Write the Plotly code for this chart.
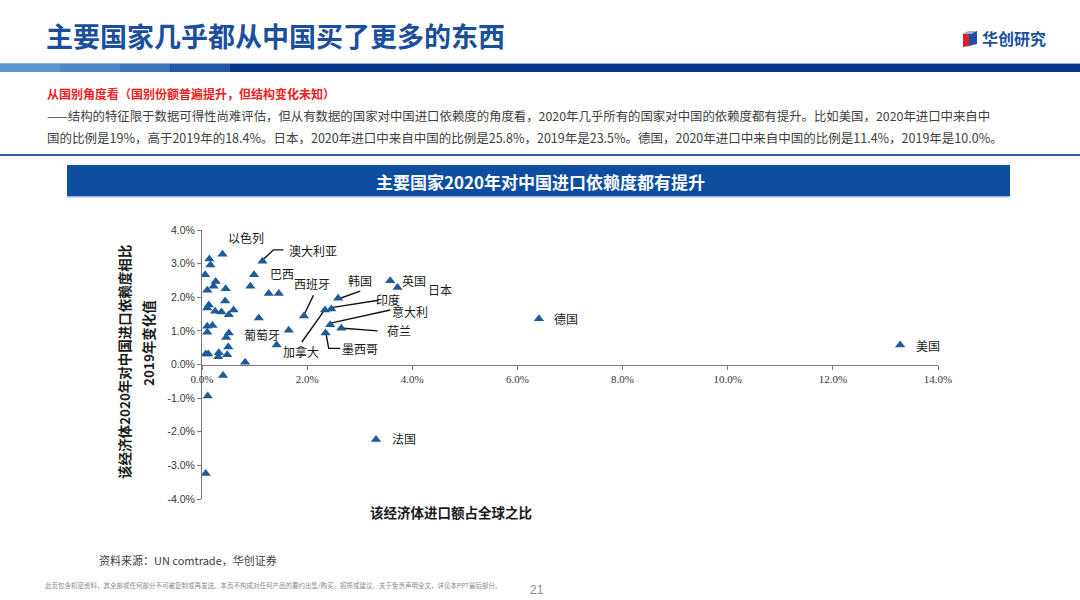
import plotly.graph_objects as go

# ---------------- data ----------------
countries = [
    "以色列", "", "", "", "", "", "", "",
    "澳大利亚", "巴西", "", "", "",
    "", "", "", "", "", "", "", "",
    "西班牙",
    "", "", "", "", "", "葡萄牙", "", "",
    "", "", "", "", "", "", "", "", "",
    "韩国", "加拿大", "印度", "意大利", "荷兰", "墨西哥",
    "英国", "日本", "德国", "美国", "法国",
]
import_share = [  # % of global imports
    0.39, 0.14, 0.16, 0.06, 0.26, 0.22, 0.45, 0.10,
    1.15, 0.99, 0.92, 1.27, 1.46,
    0.44, 0.13, 0.10, 0.25, 0.37, 0.51, 0.60, 1.08,
    1.94,
    0.10, 0.20, 0.10, 0.51, 0.46, 1.65, 0.50, 1.42,
    0.07, 0.12, 0.32, 0.31, 0.48, 0.82, 0.40, 0.11, 0.07,
    2.59, 2.34, 2.46, 2.44, 2.65, 2.35,
    3.58, 3.72, 6.41, 13.28, 3.31,
]
dependence_change = [  # change vs 2019, percentage points
    3.28, 3.14, 2.96, 2.67, 2.47, 2.33, 2.25, 2.21,
    3.07, 2.67, 2.33, 2.11, 2.11,
    1.89, 1.77, 1.68, 1.58, 1.56, 1.48, 1.62, 1.38,
    1.44,
    1.14, 1.16, 0.96, 0.94, 0.80, 1.02, 0.52, 0.58,
    0.31, 0.31, 0.35, 0.23, 0.29, 0.07, -0.33, -0.94, -3.24,
    1.97, 1.62, 1.65, 1.18, 1.08, 0.94,
    2.49, 2.29, 1.36, 0.58, -2.23,
]
x_ticks = [0, 2, 4, 6, 8, 10, 12, 14]
y_ticks = [-4, -3, -2, -1, 0, 1, 2, 3, 4]

# label text positions (axis units) and leader lines
label_pos = {
    "以色列": (0.83, 3.78), "澳大利亚": (2.12, 3.40), "巴西": (1.53, 2.71),
    "西班牙": (2.09, 2.41), "韩国": (3.01, 2.49), "印度": (3.53, 1.94),
    "意大利": (3.96, 1.58), "荷兰": (3.75, 1.02), "墨西哥": (3.01, 0.48),
    "加拿大": (1.88, 0.40), "英国": (4.04, 2.51), "日本": (4.52, 2.24),
    "葡萄牙": (1.14, 0.89), "德国": (6.93, 1.36), "美国": (13.81, 0.58),
    "法国": (3.85, -2.20),
}
leaders = [
    ([1.55, 1.36, 1.17], [3.41, 3.41, 3.13]),
    ([2.12, 1.95], [2.06, 1.50]),
    ([3.01, 2.63], [2.18, 1.97]),
    ([3.36, 2.49], [1.91, 1.70]),
    ([3.58, 2.47], [1.62, 1.24]),
    ([3.34, 2.69], [1.00, 1.08]),
    ([2.63, 2.41, 2.36], [0.48, 0.48, 0.90]),
    ([1.90, 2.31], [0.67, 1.57]),
]

# ---------------- layout geometry ----------------
W, H = 1080, 600
L, R, T, B = 202, 142, 230, 101
PW, PH = W - L - R, H - T - B


def px(x):
    return (x - L) / PW


def py(y):
    return (H - B - y) / PH


CJK = "Noto Sans CJK SC"
fig = go.Figure()

for lx, ly in leaders:
    fig.add_trace(go.Scatter(x=lx, y=ly, mode="lines",
                             line=dict(color="#111111", width=1.4),
                             hoverinfo="skip", showlegend=False))

fig.add_trace(go.Scatter(
    x=import_share, y=dependence_change, mode="markers",
    marker=dict(symbol="triangle-up", size=9, color="#1f5b98"),
    text=countries, showlegend=False,
))

annotations = []
for name, (lx, ly) in label_pos.items():
    annotations.append(dict(x=lx, y=ly, xref="x", yref="y", text=name,
                            showarrow=False, font=dict(family=CJK, size=12, color="#1a1a1a")))

# header
annotations += [
    dict(x=px(44), y=py(35), xref="paper", yref="paper", xanchor="left", yanchor="middle",
         text="<b>主要国家几乎都从中国买了更多的东西</b>", showarrow=False,
         font=dict(family=CJK, size=27, color="#1a4f9e")),
    dict(x=px(980), y=py(38), xref="paper", yref="paper", xanchor="left", yanchor="middle",
         text="<b>华创研究</b>", showarrow=False,
         font=dict(family=CJK, size=16, color="#1a4f9e")),
    dict(x=px(45), y=py(94), xref="paper", yref="paper", xanchor="left", yanchor="middle",
         text="<b>从国别角度看（国别份额普遍提升，但结构变化未知）</b>", showarrow=False,
         font=dict(family=CJK, size=12, color="#ee1c1c")),
    dict(x=px(45), y=py(116), xref="paper", yref="paper", xanchor="left", yanchor="middle",
         text="——结构的特征限于数据可得性尚难评估，但从有数据的国家对中国进口依赖度的角度看，2020年几乎所有的国家对中国的依赖度都有提升。比如美国，2020年进口中来自中",
         showarrow=False, font=dict(family=CJK, size=12.4, color="#404040")),
    dict(x=px(45), y=py(137), xref="paper", yref="paper", xanchor="left", yanchor="middle",
         text="国的比例是19%，高于2019年的18.4%。日本，2020年进口中来自中国的比例是25.8%，2019年是23.5%。德国，2020年进口中来自中国的比例是11.4%，2019年是10.0%。",
         showarrow=False, font=dict(family=CJK, size=12.5, color="#404040")),
    dict(x=px(540), y=py(181), xref="paper", yref="paper", xanchor="center", yanchor="middle",
         text="<b>主要国家2020年对中国进口依赖度都有提升</b>", showarrow=False,
         font=dict(family=CJK, size=17, color="#ffffff")),
    dict(x=px(124), y=py(362), xref="paper", yref="paper", xanchor="center", yanchor="middle",
         text="<b>该经济体2020年对中国进口依赖度相比</b>", textangle=-90, showarrow=False,
         font=dict(family=CJK, size=13.5, color="#1a1a1a")),
    dict(x=px(148), y=py(343), xref="paper", yref="paper", xanchor="center", yanchor="middle",
         text="<b>2019年变化值</b>", textangle=-90, showarrow=False,
         font=dict(family=CJK, size=13.5, color="#1a1a1a")),
    dict(x=px(451), y=py(512), xref="paper", yref="paper", xanchor="center", yanchor="middle",
         text="<b>该经济体进口额占全球之比</b>", showarrow=False,
         font=dict(family=CJK, size=13.5, color="#1a1a1a")),
    dict(x=px(97), y=py(560), xref="paper", yref="paper", xanchor="left", yanchor="middle",
         text="资料来源：UN comtrade，华创证券", showarrow=False,
         font=dict(family=CJK, size=11, color="#404040")),
    dict(x=px(43), y=py(585), xref="paper", yref="paper", xanchor="left", yanchor="middle",
         text="此页包含机密资料，其全部或任何部分不可被复制或再发送。本页不构成对任何产品的要约出售/购买、招揽或建议。关于免责声明全文，详见本PPT最后部分。",
         showarrow=False, font=dict(family=CJK, size=6.5, color="#8a8a8a")),
    dict(x=px(537), y=py(590), xref="paper", yref="paper", xanchor="center", yanchor="middle",
         text="21", showarrow=False, font=dict(family="Liberation Sans", size=12, color="#8a8a8a")),
]

shapes = []
# header gradient band
band = [(0, 60, "#5a97d0"), (60, 120, "#4a88c6"), (120, 170, "#3a78bb"),
        (170, 230, "#2256a8"), (230, 1080, "#0c3590")]
for x0, x1, c in band:
    shapes.append(dict(type="rect", xref="paper", yref="paper",
                       x0=px(x0), x1=px(x1), y0=py(72), y1=py(64),
                       fillcolor=c, line=dict(width=0), layer="below"))
shapes.append(dict(type="rect", xref="paper", yref="paper", x0=px(0), x1=px(1080),
                   y0=py(64), y1=py(63), fillcolor="#8fb2dc", line=dict(width=0)))
# separator line
shapes.append(dict(type="rect", xref="paper", yref="paper", x0=px(0), x1=px(1080),
                   y0=py(156), y1=py(154), fillcolor="#2c5ca6", line=dict(width=0)))
# chart title bar
shapes.append(dict(type="rect", xref="paper", yref="paper", x0=px(67), x1=px(1010),
                   y0=py(196), y1=py(165), fillcolor="#0d4ea1", line=dict(width=0)))
shapes.append(dict(type="rect", xref="paper", yref="paper", x0=px(67), x1=px(1010),
                   y0=py(197.5), y1=py(196), fillcolor="#9bb8de", line=dict(width=0)))


# logo cube
def path(pts):
    return "M " + " L ".join(f"{px(a)},{py(b)}" for a, b in pts) + " Z"


shapes.append(dict(type="path", xref="paper", yref="paper",
                   path=path([(963, 34), (969, 31), (969, 46), (963, 47)]),
                   fillcolor="#e11d2a", line=dict(width=0)))
shapes.append(dict(type="path", xref="paper", yref="paper",
                   path=path([(969, 31), (977, 31), (977, 44), (969, 46)]),
                   fillcolor="#1f4fa3", line=dict(width=0)))
shapes.append(dict(type="path", xref="paper", yref="paper",
                   path=path([(963, 34), (969, 31), (977, 31), (971, 34)]),
                   fillcolor="#9db8e0", line=dict(width=0)))

fig.update_layout(
    width=W, height=H,
    margin=dict(l=L, r=R, t=T, b=B),
    paper_bgcolor="white", plot_bgcolor="white",
    annotations=annotations, shapes=shapes,
    xaxis=dict(range=[0, 14], tickvals=x_ticks,
               ticktext=[f"{v:.1f}%" for v in x_ticks],
               anchor="free", position=0.5,
               showgrid=False, zeroline=False, showline=True,
               linecolor="#777777", linewidth=1,
               ticks="outside", ticklen=4, tickcolor="#777777",
               tickfont=dict(family="Liberation Serif", size=11, color="#333333")),
    yaxis=dict(range=[-4, 4], tickvals=y_ticks,
               ticktext=[f"{v:.1f}%" for v in y_ticks],
               showgrid=False, zeroline=False, showline=True,
               linecolor="#777777", linewidth=1,
               ticks="outside", ticklen=4, tickcolor="#777777",
               tickfont=dict(family="Liberation Sans", size=10.5, color="#333333")),
)

fig.write_html("out.html", config={"displayModeBar": False},
               post_script="document.body.style.margin='0';document.body.style.overflow='hidden';")
